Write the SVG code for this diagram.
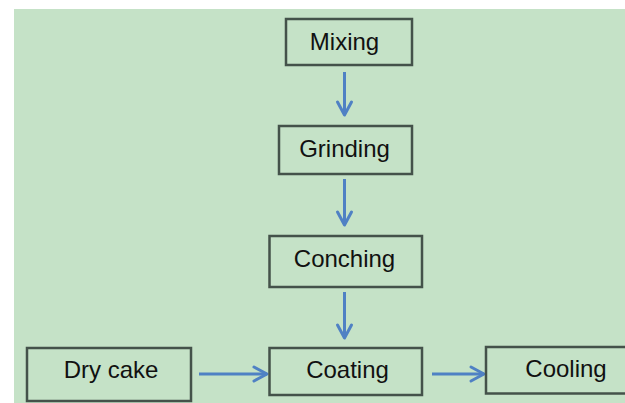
<svg xmlns="http://www.w3.org/2000/svg" width="625" height="403" viewBox="0 0 625 403">
<defs>
<style>
.box{fill:none;stroke:#44524a;stroke-width:2.5}
.lbl{font-family:"Liberation Sans",Arial,sans-serif;font-size:24px;fill:#111;text-anchor:middle}
.conn{stroke:#4f81c4;stroke-width:3;fill:none}
</style>
<marker id="arr" markerUnits="userSpaceOnUse" markerWidth="20" markerHeight="20" refX="15" refY="8" orient="auto" overflow="visible">
<path d="M2,1 L15,8 L2,15" fill="none" stroke="#4f81c4" stroke-width="3" stroke-linecap="round" stroke-linejoin="round"/>
</marker>
</defs>
<rect x="0" y="0" width="625" height="403" fill="#ffffff"/>
<rect x="14" y="9" width="611" height="394" fill="#c5e2c7"/>
<g id="connectors">
<line class="conn" x1="344.5" y1="72" x2="344.5" y2="115" marker-end="url(#arr)"/>
<line class="conn" x1="344.5" y1="179" x2="344.5" y2="225" marker-end="url(#arr)"/>
<line class="conn" x1="344.5" y1="292" x2="344.5" y2="338" marker-end="url(#arr)"/>
<line class="conn" x1="199" y1="374" x2="267" y2="374" marker-end="url(#arr)"/>
<line class="conn" x1="432" y1="374" x2="484" y2="374" marker-end="url(#arr)"/>
</g>
<g id="mixing">
<rect class="box" x="286" y="19" width="126" height="46"/>
<text class="lbl" x="344.5" y="50">Mixing</text>
</g>
<g id="grinding">
<rect class="box" x="279" y="126" width="133" height="48"/>
<text class="lbl" x="344.5" y="157">Grinding</text>
</g>
<g id="conching">
<rect class="box" x="269.5" y="236" width="152.5" height="51"/>
<text class="lbl" x="344.5" y="267">Conching</text>
</g>
<g id="drycake">
<rect class="box" x="27" y="348" width="164" height="53"/>
<text class="lbl" x="111" y="378">Dry cake</text>
</g>
<g id="coating">
<rect class="box" x="269.5" y="348" width="152.5" height="47"/>
<text class="lbl" x="347.5" y="378">Coating</text>
</g>
<g id="cooling">
<rect class="box" x="486" y="347" width="150" height="46.5"/>
<text class="lbl" x="566" y="377">Cooling</text>
</g>
</svg>
